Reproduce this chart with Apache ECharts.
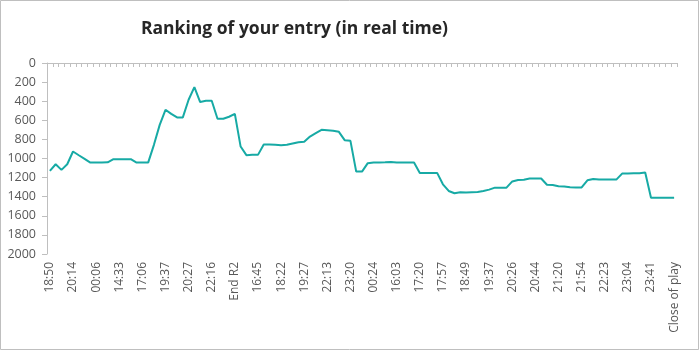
<!DOCTYPE html>
<html>
<head>
<meta charset="utf-8">
<script src="https://cdn.jsdelivr.net/npm/echarts@6/dist/echarts.min.js"></script>
<style>
html,body{margin:0;padding:0;background:#fff;}
#chart{width:699px;height:350px;}
</style>
</head>
<body>
<div id="chart"></div>
<script>
// Visible tick labels (every 4th category)
const tickLabels = ['18:50','20:14','00:06','14:33','17:06','19:37','20:27','22:16','End R2','16:45','18:22','19:27','22:13','23:20','00:24','16:03','17:20','17:57','18:49','19:37','20:26','20:44','21:20','21:54','22:23','23:04','23:41','Close of play'];

// Ranking values (109 snapshots)
const rankings = [
  1130,1060,1119,1060,927,966,1004,1043,1043,1043,1040,1007,1007,1007,1007,1043,
  1043,1043,857,648,490,533,570,570,385,252,409,396,396,584,584,563,
  533,875,965,962,962,854,854,857,861,857,843,829,825,770,735,
  700,705,710,721,808,815,1137,1137,1049,1043,1043,1040,1036,1043,1043,1043,
  1043,1151,1151,1151,1151,1270,1340,1364,1353,1357,1353,1350,1340,1326,1305,
  1305,1305,1240,1225,1222,1210,1210,1210,1275,1278,1290,1292,1300,1303,1303,
  1228,1214,1221,1221,1221,1221,1158,1158,1154,1154,1147,1410,1410,1410,1410,1410
];

const categories = rankings.map((v, i) => (i % 4 === 0 ? tickLabels[i / 4] : ''));

const chart = echarts.init(document.getElementById('chart'));
const font = '"Open Sans", "Noto Sans", sans-serif';
chart.setOption({
  animation: false,
  backgroundColor: '#fff',
  title: {
    text: 'Ranking of your entry (in real time)',
    left: 136,
    top: 15,
    textStyle: { fontFamily: font, fontSize: 17.5, fontWeight: 'bold', color: '#262626' }
  },
  graphic: [{
    type: 'rect',
    shape: { x: 0.5, y: 0.5, width: 698, height: 349 },
    style: { fill: 'none', stroke: '#bfbfbf', lineWidth: 1 },
    silent: true
  }],
  grid: { left: 47, right: 22, top: 63, bottom: 96 },
  xAxis: {
    type: 'category',
    data: categories,
    boundaryGap: true,
    axisLine: { lineStyle: { color: '#bfbfbf' } },
    axisTick: { show: true, interval: 0, length: 4, lineStyle: { color: '#bfbfbf' } },
    axisLabel: {
      interval: 3,
      rotate: 90,
      fontFamily: font,
      fontSize: 12,
      color: '#595959',
      margin: 8
    }
  },
  yAxis: {
    type: 'value',
    inverse: true,
    min: 0,
    max: 2000,
    interval: 200,
    axisLine: { show: true, lineStyle: { color: '#bfbfbf' } },
    axisTick: { show: true, length: 5, lineStyle: { color: '#bfbfbf' } },
    splitLine: { show: false },
    axisLabel: {
      fontFamily: font, fontSize: 12.5, color: '#595959', margin: 11,
      formatter: function (v) { return String(v); }
    }
  },
  series: [{
    type: 'line',
    data: rankings,
    showSymbol: false,
    symbol: 'none',
    lineStyle: { color: '#17aaa5', width: 2 },
    itemStyle: { color: '#17aaa5' }
  }]
});
</script>
</body>
</html>
